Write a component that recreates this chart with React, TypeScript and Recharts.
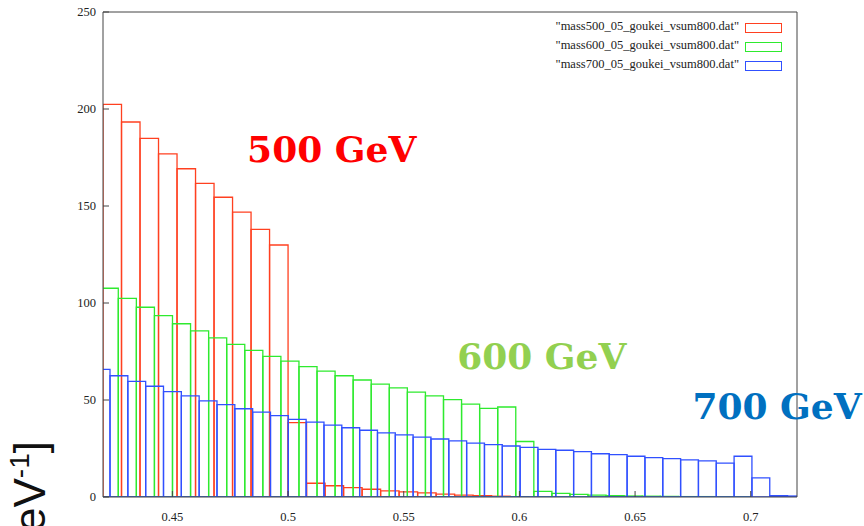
import React from "react";
import {
  ComposedChart,
  XAxis,
  YAxis,
  ReferenceArea,
  ReferenceDot,
  Legend,
  Label,
} from "recharts";

// bin values (events per bin)
const redStart = 0.42;
const redWidth = 0.008;
const redValues = [
  202.4, 193.3, 184.9, 176.9, 169.2, 161.7, 154.5, 146.8, 138.0, 129.9, 38.3,
  7.1, 5.8, 4.8, 4.0, 3.2, 2.6, 2.1, 1.5, 1.0, 0.7, 0.4, 0.2,
];

const greenStart = 0.4188;
const greenWidth = 0.00781;
const greenValues = [
  107.6, 102.4, 97.8, 93.5, 89.3, 85.6, 82.0, 78.7, 75.6, 72.5, 70.0, 67.2,
  64.9, 62.5, 60.3, 58.2, 56.2, 54.1, 52.1, 50.2, 47.9, 45.7, 46.4, 28.6, 2.9,
  1.9, 1.4, 1.0, 0.7, 0.5, 0.4, 0.3, 0.2, 0.2, 0.1, 0.1,
];

const blueStart = 0.41532;
const blueWidth = 0.007708;
const blueValues = [
  65.8, 62.5, 59.6, 57.1, 54.3, 52.1, 49.6, 47.6, 45.5, 43.7, 41.9, 40.0, 38.6,
  37.1, 35.7, 34.4, 33.1, 32.0, 30.9, 29.9, 28.9, 27.8, 27.0, 26.3, 25.6, 24.6,
  24.1, 23.4, 22.3, 21.8, 21.0, 20.3, 19.8, 19.1, 18.6, 17.5, 21.0, 9.9, 0.7,
  0.5,
];

const xTicks = [0.45, 0.5, 0.55, 0.6, 0.65, 0.7];
const yTicks = [0, 50, 100, 150, 200, 250];

const series = [
  { name: '"mass500_05_goukei_vsum800.dat"', color: "#ff4020", start: redStart, width: redWidth, values: redValues },
  { name: '"mass600_05_goukei_vsum800.dat"', color: "#2eea2e", start: greenStart, width: greenWidth, values: greenValues },
  { name: '"mass700_05_goukei_vsum800.dat"', color: "#3050ff", start: blueStart, width: blueWidth, values: blueValues },
];

const annotations = [
  { text: "500 GeV", x: 0.4823, y: 179.4, color: "#ff0000" },
  { text: "600 GeV", x: 0.5731, y: 72.7, color: "#92d050" },
  { text: "700 GeV", x: 0.6748, y: 46.6, color: "#0070c0" },
];

const axisColor = "#444";
const tickFont = { fontSize: 12.5, fontFamily: "Liberation Serif", fill: "#222" };

const bins = series.flatMap((s) =>
  s.values.map((v, i) => ({
    key: `${s.name}-${i}`,
    x1: s.start + i * s.width,
    x2: s.start + (i + 1) * s.width,
    y: v,
    color: s.color,
  }))
);

const HistLegend = () => (
  <div style={{ position: "relative", height: 0 }}>
    {series.map((s, i) => (
      <React.Fragment key={s.name}>
        <span
          style={{
            position: "absolute",
            right: 864 - 739,
            top: 18.5 + i * 19.3,
            lineHeight: "14px",
            fontSize: 12.5,
            fontFamily: "Liberation Serif",
            color: "#222",
            whiteSpace: "nowrap",
          }}
        >
          {s.name}
        </span>
        <span
          style={{
            position: "absolute",
            display: "block",
            left: 745,
            top: 22.7 + i * 19.3,
            width: 37,
            height: 10,
            boxSizing: "border-box",
            borderStyle: "solid",
            borderWidth: 1.5,
            borderColor: s.color,
          }}
        />
      </React.Fragment>
    ))}
  </div>
);

const YTitle = (props: any) => {
  const vb = props.viewBox;
  const x = vb.x + 45;
  const y = vb.y + vb.height - 56;
  return (
    <text
      x={x}
      y={y}
      transform={`rotate(-90 ${x} ${y})`}
      textAnchor="end"
      fontFamily="Liberation Sans"
      fontSize={44}
      fill="#111"
    >
      [GeV
      <tspan dy={-16} fontSize={28}>
        -1
      </tspan>
      <tspan dy={16}>]</tspan>
    </text>
  );
};

export default function App() {
  return (
    <>
      <style>{"body{margin:0}"}</style>
      <ComposedChart
        width={864}
        height={526}
        margin={{ top: 0, right: 0, bottom: 0, left: 0 }}
      >
        <XAxis
          type="number"
          dataKey="x"
          domain={[0.42, 0.72]}
          ticks={xTicks}
          allowDataOverflow
          height={29}
          tickSize={-6}
          tickMargin={21}
          tick={tickFont}
          stroke={axisColor}
        />
        <XAxis
          xAxisId="top"
          orientation="top"
          type="number"
          domain={[0.42, 0.72]}
          ticks={xTicks}
          allowDataOverflow
          height={12}
          tickSize={-6}
          tickFormatter={() => ""}
          stroke={axisColor}
        />
        <YAxis
          type="number"
          domain={[0, 250]}
          ticks={yTicks}
          allowDataOverflow
          width={103}
          tickSize={-6}
          tickMargin={13}
          tick={tickFont}
          stroke={axisColor}
        >
          <Label content={<YTitle />} />
        </YAxis>
        <YAxis
          yAxisId="right"
          orientation="right"
          type="number"
          domain={[0, 250]}
          ticks={yTicks}
          width={67}
          tickSize={-6}
          tickFormatter={() => ""}
          stroke={axisColor}
        />
        {bins.map((b) => (
          <ReferenceArea
            key={b.key}
            x1={b.x1}
            x2={b.x2}
            y1={0}
            y2={b.y}
            ifOverflow="hidden"
            fill="none"
            stroke={b.color}
            strokeWidth={1.3}
          />
        ))}
        {annotations.map((a) => (
          <ReferenceDot
            key={a.text}
            x={a.x}
            y={a.y}
            r={0}
            fill="none"
            stroke="none"
            ifOverflow="visible"
            label={{
              value: a.text,
              position: "right",
              offset: 0,
              fill: a.color,
              fontSize: 36,
              fontWeight: "bold",
              fontFamily: "DejaVu Serif",
            }}
          />
        ))}
        <Legend
          content={<HistLegend />}
          wrapperStyle={{ top: 0, left: 0, width: 864, height: 0 }}
        />
      </ComposedChart>
    </>
  );
}
